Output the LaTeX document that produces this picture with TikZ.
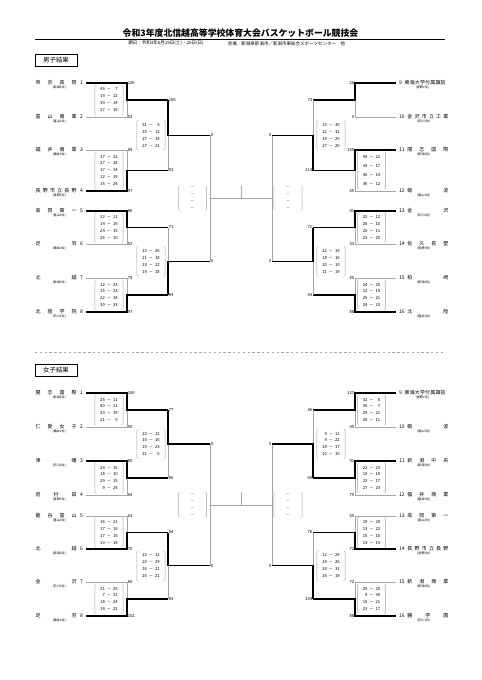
\documentclass[tikz,border=0pt]{standalone}
\usepackage{fontspec}
\setmainfont{Noto Sans CJK JP}
\usetikzlibrary{positioning}

\newcommand{\jn}[1]{\makebox[17.9mm][s]{#1}}
\newcommand{\scores}[1]{\begin{tabular}{@{}r@{\hspace{2.5pt}－\hspace{2.5pt}}r@{}}#1\end{tabular}}

\begin{document}
\begin{tikzpicture}[
    x=0.4366mm, y=-0.4366mm,
    title/.style={font=\fontsize{11}{13}\selectfont\bfseries, inner sep=0pt},
    subtitle/.style={font=\fontsize{5.6}{7}\selectfont, inner sep=0pt},
    heading/.style={
        rectangle,
        draw=black,
        line width=0.5pt,
        minimum width=18.3mm,
        minimum height=5.4mm,
        inner sep=0pt,
        font=\fontsize{8}{10}\selectfont
    },
    teamL/.style={anchor=east, font=\fontsize{6.2}{7}\selectfont, inner xsep=1.3mm, inner ysep=0.3pt},
    teamR/.style={anchor=west, font=\fontsize{6.2}{7}\selectfont, inner xsep=1.3mm, inner ysep=0.3pt},
    sub/.style={font=\fontsize{3.9}{4.5}\selectfont, inner sep=0.4pt},
    sc/.style={font=\fontsize{5.2}{6}\selectfont, inner sep=0.8pt},
    scorebox/.style={
        font=\fontsize{5.2}{8.6}\selectfont,
        minimum width=12.2mm,
        inner xsep=0pt,
        inner ysep=0.4mm,
        append after command={
            ([xshift=2pt]\tikzlastnode.north west) edge[paren] (\tikzlastnode.west)
            ([xshift=2pt]\tikzlastnode.south west) edge[paren] (\tikzlastnode.west)
            ([xshift=-2pt]\tikzlastnode.north east) edge[paren] (\tikzlastnode.east)
            ([xshift=-2pt]\tikzlastnode.south east) edge[paren] (\tikzlastnode.east)
        }
    },
    paren/.style={draw=gray!70, line width=0.4pt, rounded corners=1.5pt, to path={-| (\tikztotarget)}},
    emptybox/.style={scorebox, align=center, text=black!65},
    win/.style={line width=1.4pt, black},
    lose/.style={line width=0.5pt, gray!70}
]
\path[use as bounding box, fill=white] (0,0) rectangle (481,680);

% Title
\node[title] (ttl) at (240.5,33.3) {令和3年度北信越高等学校体育大会バスケットボール競技会};
\draw[line width=0.6pt] (35,39.3) -- (445,39.3);
\node[subtitle] (date) at (166,43.5) {期日：令和3年6月19日(土)・20日(日)};
\node[subtitle] (venue) at (286.5,43.5) {会場：新潟県新潟市／新潟市東総合スポーツセンター　他};

% ---------------- Men ----------------
\node[heading] (mens) at (56,60.3) {男子結果};

% Teams, left
\node[teamL, label={[sub, name=m1s]below:(新潟1位)}] (m1) at (86,83) {\jn{帝\hfill 京\hfill 長\hfill 岡}\hspace{1.5mm}1};
\node[teamL, label={[sub, name=m2s]below:(富山1位)}] (m2) at (86,117) {\jn{富\hfill 山\hfill 商\hfill 業}\hspace{1.5mm}2};
\node[teamL, label={[sub, name=m3s]below:(福井3位)}] (m3) at (86,150) {\jn{福\hfill 井\hfill 商\hfill 業}\hspace{1.5mm}3};
\node[teamL, label={[sub, name=m4s]below:(長野2位)}] (m4) at (86,191) {\jn{長\hfill 野\hfill 市\hfill 立\hfill 長\hfill 野}\hspace{1.5mm}4};
\node[teamL, label={[sub, name=m5s]below:(富山2位)}] (m5) at (86,211) {\jn{高\hfill 岡\hfill 第\hfill 一}\hspace{1.5mm}5};
\node[teamL, label={[sub, name=m6s]below:(福井2位)}] (m6) at (86,244) {\jn{足\hfill 羽}\hspace{1.5mm}6};
\node[teamL, label={[sub, name=m7s]below:(新潟3位)}] (m7) at (86,278) {\jn{北\hfill 越}\hspace{1.5mm}7};
\node[teamL, label={[sub, name=m8s]below:(石川1位)}] (m8) at (86,312) {\jn{北\hfill 陸\hfill 学\hfill 院}\hspace{1.5mm}8};

% Teams, right
\node[teamR, label={[sub, name=m9s]below:(長野1位)}] (m9) at (396,83) {9\hspace{1.2mm}\jn{東\hfill 海\hfill 大\hfill 学\hfill 付\hfill 属\hfill 諏\hfill 訪}};
\node[teamR, label={[sub, name=m10s]below:(石川3位)}] (m10) at (396,117) {10\hspace{1.2mm}\jn{金\hfill 沢\hfill 市\hfill 立\hfill 工\hfill 業}};
\node[teamR, label={[sub, name=m11s]below:(新潟2位)}] (m11) at (396,150) {11\hspace{1.2mm}\jn{開\hfill 志\hfill 国\hfill 際}};
\node[teamR, label={[sub, name=m12s]below:(富山3位)}] (m12) at (396,191) {12\hspace{1.2mm}\jn{砺\hfill 波}};
\node[teamR, label={[sub, name=m13s]below:(石川2位)}] (m13) at (396,211) {13\hspace{1.2mm}\jn{金\hfill 沢}};
\node[teamR, label={[sub, name=m14s]below:(長野3位)}] (m14) at (396,244) {14\hspace{1.2mm}\jn{佐\hfill 久\hfill 長\hfill 聖}};
\node[teamR, label={[sub, name=m15s]below:(新潟4位)}] (m15) at (396,278) {15\hspace{1.2mm}\jn{柏\hfill 崎}};
\node[teamR, label={[sub, name=m16s]below:(福井1位)}] (m16) at (396,312) {16\hspace{1.2mm}\jn{北\hfill 陸}};

% Bracket points, left
\coordinate[label={[sc, name=mj1p]right:126}] (mj1) at (127,83);
\coordinate[label={[sc, name=mj2p]right:52}] (mj2) at (127,117);
\coordinate[label={[sc, name=mj3p]right:89}] (mj3) at (127,150);
\coordinate[label={[sc, name=mj4p]right:97}] (mj4) at (127,191);
\coordinate[label={[sc, name=mj5p]right:86}] (mj5) at (127,211);
\coordinate[label={[sc, name=mj6p]right:52}] (mj6) at (127,244);
\coordinate[label={[sc, name=mj7p]right:79}] (mj7) at (127,278);
\coordinate[label={[sc, name=mj8p]right:97}] (mj8) at (127,312);
\coordinate[label={[sc, name=mk1p]right:100}] (mk1) at (168,100);
\coordinate[label={[sc, name=mk2p]right:53}] (mk2) at (168,170.5);
\coordinate[label={[sc, name=mk3p]right:71}] (mk3) at (168,227.5);
\coordinate[label={[sc, name=mk4p]right:84}] (mk4) at (168,295);
\coordinate[label={[sc, name=ml1p]right:0}] (ml1) at (210,135.25);
\coordinate[label={[sc, name=ml2p]right:0}] (ml2) at (210,261.25);

% Bracket points, right
\coordinate[label={[sc, name=mj9p]left:20}] (mj9) at (355,83);
\coordinate[label={[sc, name=mj10p]left:0}] (mj10) at (355,117);
\coordinate[label={[sc, name=mj11p]left:155}] (mj11) at (355,150);
\coordinate[label={[sc, name=mj12p]left:65}] (mj12) at (355,191);
\coordinate[label={[sc, name=mj13p]left:91}] (mj13) at (355,211);
\coordinate[label={[sc, name=mj14p]left:53}] (mj14) at (355,244);
\coordinate[label={[sc, name=mj15p]left:85}] (mj15) at (355,278);
\coordinate[label={[sc, name=mj16p]left:88}] (mj16) at (355,312);
\coordinate[label={[sc, name=mk5p]left:73}] (mk5) at (313,100);
\coordinate[label={[sc, name=mk6p]left:113}] (mk6) at (313,170.5);
\coordinate[label={[sc, name=mk7p]left:71}] (mk7) at (313,227.5);
\coordinate[label={[sc, name=mk8p]left:64}] (mk8) at (313,295);
\coordinate[label={[sc, name=ml3p]left:0}] (ml3) at (272,135.25);
\coordinate[label={[sc, name=ml4p]left:0}] (ml4) at (272,261.25);

% Final
\coordinate (mfL) at (210,198.25);
\coordinate (mfR) at (272,198.25);
\coordinate (mfT) at (241,186);
\draw[lose] (ml1) -- (ml2);
\draw[lose] (ml3) -- (ml4);
\draw[lose] (mfL) -- (mfR);
\draw[lose] (mfT) -- (mfT |- mfL);

% First round, left
\draw[lose] (m2.east) -- (mj2) -- (mj2 |- mk1);
\draw[win] (m1.east) -- (mj1) |- (mk1);
\draw[lose] (m3.east) -- (mj3) -- (mj3 |- mk2);
\draw[win] (m4.east) -- (mj4) |- (mk2);
\draw[lose] (m6.east) -- (mj6) -- (mj6 |- mk3);
\draw[win] (m5.east) -- (mj5) |- (mk3);
\draw[lose] (m7.east) -- (mj7) -- (mj7 |- mk4);
\draw[win] (m8.east) -- (mj8) |- (mk4);

% First round, right
\draw[lose] (m10.west) -- (mj10) -- (mj10 |- mk5);
\draw[win] (m9.west) -- (mj9) |- (mk5);
\draw[lose] (m12.west) -- (mj12) -- (mj12 |- mk6);
\draw[win] (m11.west) -- (mj11) |- (mk6);
\draw[lose] (m14.west) -- (mj14) -- (mj14 |- mk7);
\draw[win] (m13.west) -- (mj13) |- (mk7);
\draw[lose] (m15.west) -- (mj15) -- (mj15 |- mk8);
\draw[win] (m16.west) -- (mj16) |- (mk8);

% Second round
\draw[lose] (mk2) -- (mk2 |- ml1);
\draw[win] (mk1) |- (ml1);
\draw[lose] (mk3) -- (mk3 |- ml2);
\draw[win] (mk4) |- (ml2);
\draw[lose] (mk5) -- (mk5 |- ml3);
\draw[win] (mk6) |- (ml3);
\draw[lose] (mk8) -- (mk8 |- ml4);
\draw[win] (mk7) |- (ml4);

% Scores
\node[scorebox] (mb1) at (109,100) {\scores{46&7\\19&12\\34&14\\27&19}};
\node[scorebox] (mb2) at (109,170.5) {\scores{17&22\\27&18\\17&14\\12&19\\16&24}};
\node[scorebox] (mb3) at (109,227.5) {\scores{22&11\\14&16\\24&15\\26&10}};
\node[scorebox] (mb4) at (109,295) {\scores{12&23\\15&23\\22&18\\30&33}};
\node[scorebox] (mc1) at (151,135.25) {\scores{31&6\\15&12\\27&14\\27&21}};
\node[scorebox] (mc2) at (151,261.25) {\scores{13&26\\21&18\\23&22\\14&18}};
\node[scorebox, font=\fontsize{5.2}{11}\selectfont] (mb6) at (371.5,170.5) {\scores{49&22\\34&17\\36&14\\36&12}};
\node[scorebox] (mb7) at (371.5,227.5) {\scores{22&12\\26&10\\20&11\\23&20}};
\node[scorebox] (mb8) at (371.5,295) {\scores{24&25\\12&19\\25&21\\24&23}};
\node[scorebox] (mc3) at (331,135.25) {\scores{15&30\\12&32\\19&25\\27&26}};
\node[scorebox] (mc4) at (331,261.25) {\scores{22&19\\18&16\\20&10\\11&19}};
\node[emptybox] (mf1) at (192.5,198.25) {－\\－\\－\\－};
\node[emptybox] (mf2) at (288,198.25) {－\\－\\－\\－};

% Separator
\draw[lose, dashed] (35,352.5) -- (445,352.5);

% ---------------- Women ----------------
\node[heading] (womens) at (56,370.5) {女子結果};

% Teams, left
\node[teamL, label={[sub, name=w1s]below:(新潟1位)}] (w1) at (86,393) {\jn{開\hfill 志\hfill 国\hfill 際}\hspace{1.5mm}1};
\node[teamL, label={[sub, name=w2s]below:(福井2位)}] (w2) at (86,427) {\jn{仁\hfill 愛\hfill 女\hfill 子}\hspace{1.5mm}2};
\node[teamL, label={[sub, name=w3s]below:(石川2位)}] (w3) at (86,461) {\jn{津\hfill 幡}\hspace{1.5mm}3};
\node[teamL, label={[sub, name=w4s]below:(長野3位)}] (w4) at (86,495) {\jn{岩\hfill 村\hfill 田}\hspace{1.5mm}4};
\node[teamL, label={[sub, name=w5s]below:(富山1位)}] (w5) at (86,516) {\jn{龍\hfill 谷\hfill 富\hfill 山}\hspace{1.5mm}5};
\node[teamL, label={[sub, name=w6s]below:(新潟2位)}] (w6) at (86,549) {\jn{北\hfill 越}\hspace{1.5mm}6};
\node[teamL, label={[sub, name=w7s]below:(石川3位)}] (w7) at (86,582) {\jn{金\hfill 沢}\hspace{1.5mm}7};
\node[teamL, label={[sub, name=w8s]below:(福井1位)}] (w8) at (86,616) {\jn{足\hfill 羽}\hspace{1.5mm}8};

% Teams, right
\node[teamR, label={[sub, name=w9s]below:(長野1位)}] (w9) at (396,393) {9\hspace{1.2mm}\jn{東\hfill 海\hfill 大\hfill 学\hfill 付\hfill 属\hfill 諏\hfill 訪}};
\node[teamR, label={[sub, name=w10s]below:(富山3位)}] (w10) at (396,427) {10\hspace{1.2mm}\jn{砺\hfill 波}};
\node[teamR, label={[sub, name=w11s]below:(新潟3位)}] (w11) at (396,461) {11\hspace{1.2mm}\jn{新\hfill 潟\hfill 中\hfill 央}};
\node[teamR, label={[sub, name=w12s]below:(福井3位)}] (w12) at (396,495) {12\hspace{1.2mm}\jn{福\hfill 井\hfill 商\hfill 業}};
\node[teamR, label={[sub, name=w13s]below:(富山2位)}] (w13) at (396,516) {13\hspace{1.2mm}\jn{高\hfill 岡\hfill 第\hfill 一}};
\node[teamR, label={[sub, name=w14s]below:(長野2位)}] (w14) at (396,549) {14\hspace{1.2mm}\jn{長\hfill 野\hfill 市\hfill 立\hfill 長\hfill 野}};
\node[teamR, label={[sub, name=w15s]below:(新潟4位)}] (w15) at (396,582) {15\hspace{1.2mm}\jn{新\hfill 潟\hfill 商\hfill 業}};
\node[teamR, label={[sub, name=w16s]below:(石川1位)}] (w16) at (396,616) {16\hspace{1.2mm}\jn{鵬\hfill 学\hfill 園}};

% Bracket points, left
\coordinate[label={[sc, name=wj1p]right:106}] (wj1) at (127,393);
\coordinate[label={[sc, name=wj2p]right:50}] (wj2) at (127,427);
\coordinate[label={[sc, name=wj3p]right:80}] (wj3) at (127,461);
\coordinate[label={[sc, name=wj4p]right:64}] (wj4) at (127,495);
\coordinate[label={[sc, name=wj5p]right:63}] (wj5) at (127,516);
\coordinate[label={[sc, name=wj6p]right:70}] (wj6) at (127,549);
\coordinate[label={[sc, name=wj7p]right:60}] (wj7) at (127,582);
\coordinate[label={[sc, name=wj8p]right:102}] (wj8) at (127,616);
\coordinate[label={[sc, name=wk1p]right:77}] (wk1) at (168,410);
\coordinate[label={[sc, name=wk2p]right:56}] (wk2) at (168,478);
\coordinate[label={[sc, name=wk3p]right:84}] (wk3) at (168,532.5);
\coordinate[label={[sc, name=wk4p]right:83}] (wk4) at (168,599);
\coordinate[label={[sc, name=wl1p]right:0}] (wl1) at (210,444);
\coordinate[label={[sc, name=wl2p]right:0}] (wl2) at (210,565.75);

% Bracket points, right
\coordinate[label={[sc, name=wj9p]left:127}] (wj9) at (355,393);
\coordinate[label={[sc, name=wj10p]left:45}] (wj10) at (355,427);
\coordinate[label={[sc, name=wj11p]left:91}] (wj11) at (355,461);
\coordinate[label={[sc, name=wj12p]left:79}] (wj12) at (355,495);
\coordinate[label={[sc, name=wj13p]left:60}] (wj13) at (355,516);
\coordinate[label={[sc, name=wj14p]left:72}] (wj14) at (355,549);
\coordinate[label={[sc, name=wj15p]left:72}] (wj15) at (355,582);
\coordinate[label={[sc, name=wj16p]left:88}] (wj16) at (355,616);
\coordinate[label={[sc, name=wk5p]left:46}] (wk5) at (313,410);
\coordinate[label={[sc, name=wk6p]left:60}] (wk6) at (313,478);
\coordinate[label={[sc, name=wk7p]left:76}] (wk7) at (313,532.5);
\coordinate[label={[sc, name=wk8p]left:104}] (wk8) at (313,599);
\coordinate[label={[sc, name=wl3p]left:0}] (wl3) at (272,444);
\coordinate[label={[sc, name=wl4p]left:0}] (wl4) at (272,565.75);

% Final
\coordinate (wfL) at (210,504.9);
\coordinate (wfR) at (272,504.9);
\coordinate (wfT) at (241,492);
\draw[lose] (wl1) -- (wl2);
\draw[lose] (wl3) -- (wl4);
\draw[lose] (wfL) -- (wfR);
\draw[lose] (wfT) -- (wfT |- wfL);

% First round, left
\draw[lose] (w2.east) -- (wj2) -- (wj2 |- wk1);
\draw[win] (w1.east) -- (wj1) |- (wk1);
\draw[lose] (w4.east) -- (wj4) -- (wj4 |- wk2);
\draw[win] (w3.east) -- (wj3) |- (wk2);
\draw[lose] (w5.east) -- (wj5) -- (wj5 |- wk3);
\draw[win] (w6.east) -- (wj6) |- (wk3);
\draw[lose] (w7.east) -- (wj7) -- (wj7 |- wk4);
\draw[win] (w8.east) -- (wj8) |- (wk4);

% First round, right
\draw[lose] (w10.west) -- (wj10) -- (wj10 |- wk5);
\draw[win] (w9.west) -- (wj9) |- (wk5);
\draw[lose] (w12.west) -- (wj12) -- (wj12 |- wk6);
\draw[win] (w11.west) -- (wj11) |- (wk6);
\draw[lose] (w13.west) -- (wj13) -- (wj13 |- wk7);
\draw[win] (w14.west) -- (wj14) |- (wk7);
\draw[lose] (w15.west) -- (wj15) -- (wj15 |- wk8);
\draw[win] (w16.west) -- (wj16) |- (wk8);

% Second round
\draw[lose] (wk2) -- (wk2 |- wl1);
\draw[win] (wk1) |- (wl1);
\draw[lose] (wk4) -- (wk4 |- wl2);
\draw[win] (wk3) |- (wl2);
\draw[lose] (wk5) -- (wk5 |- wl3);
\draw[win] (wk6) |- (wl3);
\draw[lose] (wk7) -- (wk7 |- wl4);
\draw[win] (wk8) |- (wl4);

% Scores
\node[scorebox] (wb1) at (109,410) {\scores{25&11\\40&11\\20&19\\21&9}};
\node[scorebox] (wb2) at (109,478) {\scores{24&15\\18&10\\29&15\\9&24}};
\node[scorebox] (wb3) at (109,532.5) {\scores{16&21\\17&16\\17&15\\13&18}};
\node[scorebox] (wb4) at (109,599) {\scores{21&25\\7&31\\18&24\\14&22}};
\node[scorebox] (wc1) at (151,444) {\scores{23&12\\14&16\\19&23\\21&5}};
\node[scorebox] (wc2) at (151,565.75) {\scores{23&12\\20&29\\16&21\\25&21}};
\node[scorebox] (wb5) at (371.5,410) {\scores{32&6\\30&7\\29&21\\26&11}};
\node[scorebox] (wb6) at (371.5,478) {\scores{22&23\\19&16\\23&17\\27&23}};
\node[scorebox] (wb7) at (371.5,532.5) {\scores{19&20\\13&22\\15&16\\13&14}};
\node[scorebox] (wb8) at (371.5,599) {\scores{25&20\\9&30\\15&21\\23&17}};
\node[scorebox] (wc3) at (331,444) {\scores{9&11\\9&22\\18&17\\10&10}};
\node[scorebox] (wc4) at (331,565.75) {\scores{12&28\\14&26\\24&31\\26&19}};
\node[emptybox] (wf1) at (192.5,504.9) {－\\－\\－\\－};
\node[emptybox] (wf2) at (288,504.9) {－\\－\\－\\－};
\end{tikzpicture}
\end{document}
